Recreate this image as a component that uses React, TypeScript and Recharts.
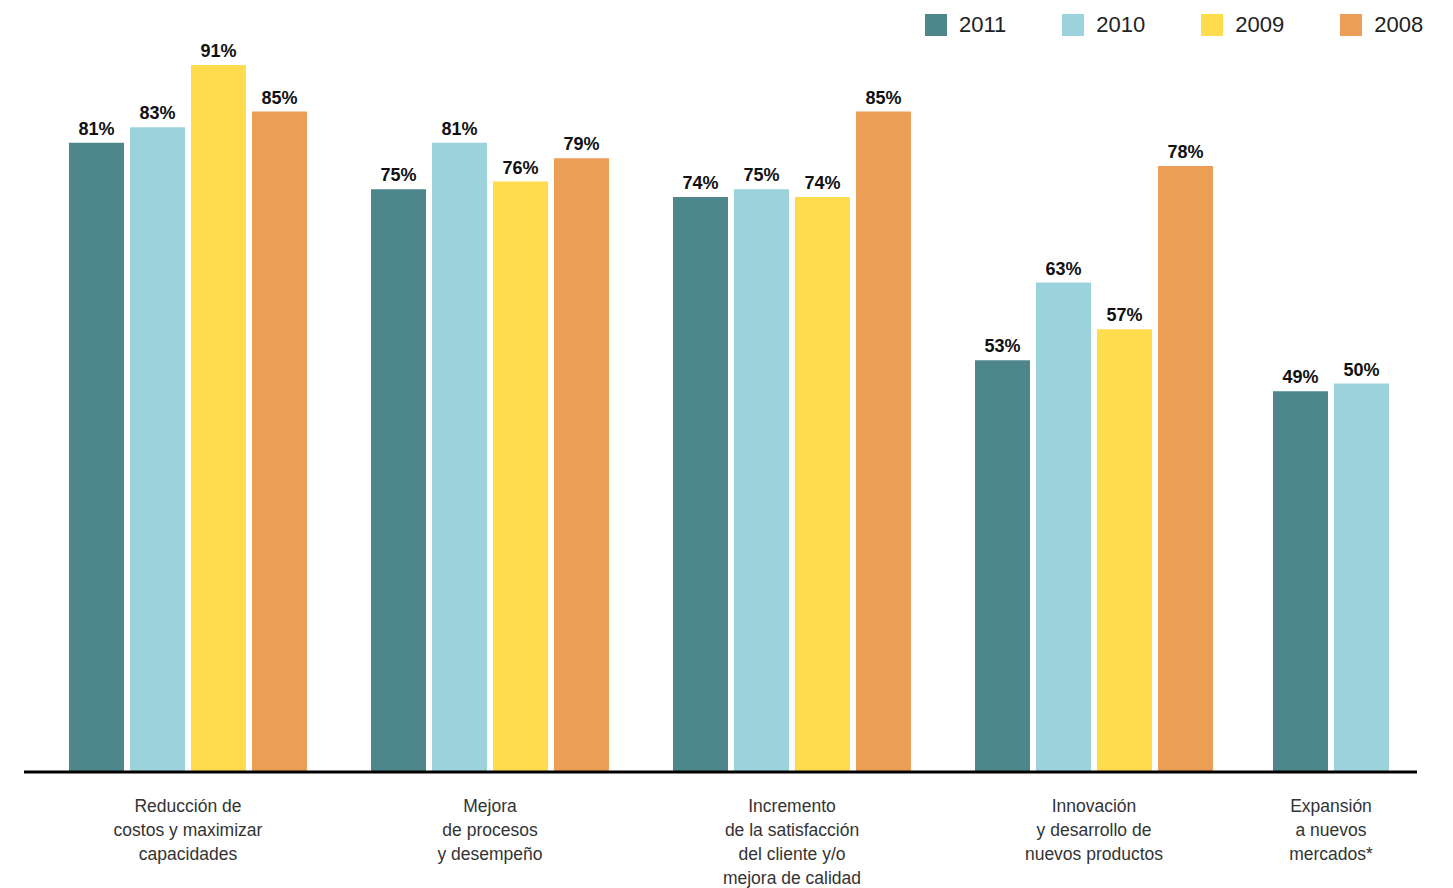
import React from 'react'
import { Bar, BarChart, LabelList, XAxis, YAxis } from 'recharts'

const categories = [
  'Reducción de\ncostos y maximizar\ncapacidades',
  'Mejora\nde procesos\ny desempeño',
  'Incremento\nde la satisfacción\ndel cliente y/o\nmejora de calidad',
  'Innovación\ny desarrollo de\nnuevos productos',
  'Expansión\na nuevos\nmercados*',
]

const v2011 = [81, 75, 74, 53, 49]
const v2010 = [83, 81, 75, 63, 50]
const v2009 = [91, 76, 74, 57, null]
const v2008 = [85, 79, 85, 78, null]

const series = [
  { key: 'y2011', name: '2011', color: '#4d878c' },
  { key: 'y2010', name: '2010', color: '#9bd2dc' },
  { key: 'y2009', name: '2009', color: '#fedc4d' },
  { key: 'y2008', name: '2008', color: '#eb9f56' },
]

const rows = categories.map((cat, i) => ({
  cat,
  y2011: v2011[i],
  y2010: v2010[i],
  y2009: v2009[i],
  y2008: v2008[i],
}))

// the last group only has 2011 / 2010, drawn as its own narrow chart so it sits centred
const mainRows = rows.slice(0, 4)
const lastRows = rows.slice(4)
const lastSeries = series.slice(0, 2)

const FONT = '"Liberation Sans", Arial, sans-serif'

const CatTick = (props: any) => {
  const { x, y, payload } = props
  const lines: string[] = String(payload.value).split('\n')
  return (
    <text
      x={x}
      y={y + 32}
      textAnchor="middle"
      fill="#333"
      fontSize={17.5}
      fontFamily={FONT}
    >
      {lines.map((l, i) => (
        <tspan key={i} x={x} dy={i === 0 ? 0 : 24}>
          {l}
        </tspan>
      ))}
    </text>
  )
}

const renderBars = (list: typeof series) =>
  list.map((s) => (
    <Bar key={s.key} dataKey={s.key} fill={s.color} isAnimationActive={false}>
      <LabelList
        dataKey={s.key}
        position="top"
        offset={8}
        formatter={(v: any) => `${v}%`}
        style={{ fontFamily: FONT, fontWeight: 700, fontSize: 18, fill: '#111' }}
      />
    </Bar>
  ))

const axisProps = {
  dataKey: 'cat',
  height: 116,
  tickLine: false,
  axisLine: { stroke: '#000', strokeWidth: 3 },
  tick: <CatTick />,
  interval: 0 as const,
}

export default function App() {
  return (
    <div
      style={{
        position: 'absolute',
        left: 0,
        top: 0,
        width: 1453,
        height: 888,
        background: '#fff',
        fontFamily: FONT,
      }}
    >
      <div
        style={{
          position: 'absolute',
          left: 925,
          top: 14,
          display: 'flex',
          gap: 56,
          alignItems: 'center',
        }}
      >
        {series.map((s) => (
          <div key={s.key} style={{ display: 'flex', alignItems: 'center' }}>
            <span
              style={{ width: 22, height: 22, background: s.color, display: 'inline-block' }}
            />
            <span style={{ marginLeft: 12, fontSize: 22, color: '#222', lineHeight: '22px' }}>
              {s.name}
            </span>
          </div>
        ))}
      </div>

      <div style={{ position: 'absolute', left: 24, top: 0 }}>
        <BarChart
          width={1221}
          height={888}
          data={mainRows}
          barSize={55}
          barGap={6}
          margin={{ top: 65, right: 0, bottom: 0, left: 0 }}
        >
          <XAxis {...axisProps} padding={{ left: 13, right: 0 }} />
          <YAxis hide domain={[0, 91]} />
          {renderBars(series)}
        </BarChart>
      </div>

      <div style={{ position: 'absolute', left: 1245, top: 0 }}>
        <BarChart
          width={172}
          height={888}
          data={lastRows}
          barSize={55}
          barGap={6}
          margin={{ top: 65, right: 0, bottom: 0, left: 0 }}
        >
          <XAxis {...axisProps} />
          <YAxis hide domain={[0, 91]} />
          {renderBars(lastSeries)}
        </BarChart>
      </div>
    </div>
  )
}
